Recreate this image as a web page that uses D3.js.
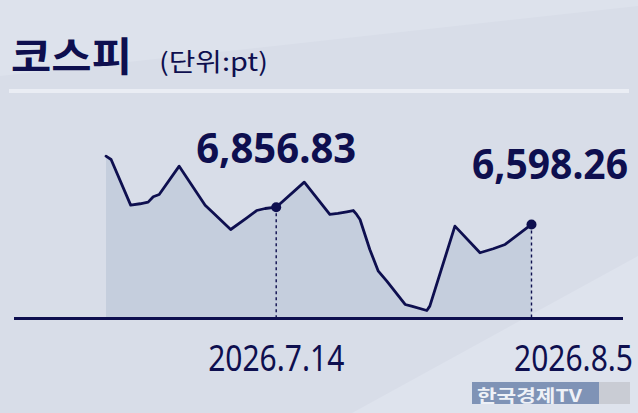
<!DOCTYPE html>
<html><head><meta charset="utf-8">
<script src="https://cdn.jsdelivr.net/npm/d3@7"></script>
<style>html,body{margin:0;padding:0;background:#d8dde8;}svg{display:block;}</style>
</head><body>
<svg id="c" width="638" height="413"></svg>
<script>
// position along the period (0 = first point, 100 = last point)
const positions = [0,1.2,5.8,8.0,9.9,11.1,12.5,17.2,23.3,24.8,29.3,33.1,35.4,37.4,40.0,46.6,52.6,54.5,56.6,58.1,58.9,59.7,62.0,64.0,66.0,70.3,71.8,75.4,76.1,82.0,87.9,91.0,93.8,100];
const values = [7619,7570,6887,6908,6932,7012,7047,7470,6887,6797,6523,6698,6807,6837,6856.83,7231,6748,6763,6788,6807,6748,6673,6224,5900,5750,5402,5377,5312,5377,6573,6175,6235,6299,6598.26];
const markedIdx = [14, 33];
const markedLabels = ["6,856.83", "6,598.26"];
const dateLabels = ["2026.7.14", "2026.8.5"];
const title = "코스피";
const unit = "(단위:pt)";
const logo = "한국경제TV";

const navy = "#0e0f4f";
const svg = d3.select("#c");

// background facets
svg.append("rect").attr("width",638).attr("height",413).attr("fill","#d8dde8");
svg.append("polygon").attr("points","0,0 638,0 638,6 0,76").attr("fill","#dde2ec");
svg.append("polygon").attr("points","352,413 638,256 638,413").attr("fill","#dee3ed");

// title
svg.append("text").attr("x",11).attr("y",71).text(title)
  .attr("font-family","'Noto Sans CJK KR'").attr("font-weight",700).attr("font-size",40)
  .attr("fill",navy).attr("textLength",121).attr("lengthAdjust","spacingAndGlyphs");
svg.append("text").attr("x",159).attr("y",71).text(unit)
  .attr("font-family","'Noto Sans CJK KR'").attr("font-weight",400).attr("font-size",25)
  .attr("fill",navy).attr("textLength",109).attr("lengthAdjust","spacingAndGlyphs");
svg.append("rect").attr("x",9).attr("y",89).attr("width",620).attr("height",4).attr("fill","#eaedf4");

const x = d3.scaleLinear().domain([0,100]).range([106,531.5]);
const y = d3.scaleLinear().domain([5200,7000]).range([318,197.6]);
const data = positions.map((p,i)=>({p, v: values[i]}));

svg.append("path").datum(data)
  .attr("d", d3.area().x(d=>x(d.p)).y0(y(5200)).y1(d=>y(d.v)))
  .attr("fill","#c5cedd");

// dashed drop lines
markedIdx.forEach(i=>{
  svg.append("line").attr("x1",x(positions[i])).attr("x2",x(positions[i]))
    .attr("y1",y(values[i])).attr("y2",y(5200))
    .attr("stroke",navy).attr("stroke-width",1.4).attr("stroke-dasharray","3,3");
});

svg.append("path").datum(data)
  .attr("d", d3.line().x(d=>x(d.p)).y(d=>y(d.v)))
  .attr("fill","none").attr("stroke",navy).attr("stroke-width",2.8)
  .attr("stroke-linejoin","round").attr("stroke-linecap","round");

// baseline
svg.append("line").attr("x1",14).attr("x2",623).attr("y1",y(5200)+0.5).attr("y2",y(5200)+0.5)
  .attr("stroke",navy).attr("stroke-width",3);

markedIdx.forEach(i=>{
  svg.append("circle").attr("cx",x(positions[i])).attr("cy",y(values[i])).attr("r",5).attr("fill",navy);
});

// value labels
svg.append("text").attr("x",x(positions[markedIdx[0]])).attr("y",163).attr("text-anchor","middle")
  .text(markedLabels[0]).attr("font-family","'Noto Sans'").attr("font-weight",700).attr("font-size",42)
  .attr("fill",navy).attr("textLength",160).attr("lengthAdjust","spacingAndGlyphs");
svg.append("text").attr("x",628).attr("y",179).attr("text-anchor","end")
  .text(markedLabels[1]).attr("font-family","'Noto Sans'").attr("font-weight",700).attr("font-size",41)
  .attr("fill",navy).attr("textLength",156).attr("lengthAdjust","spacingAndGlyphs");

// date labels (slightly tall, narrow lettering)
svg.append("text").attr("transform",`translate(${x(positions[markedIdx[0]])},371) scale(1,1.2)`)
  .attr("text-anchor","middle").text(dateLabels[0])
  .attr("font-family","'Noto Sans'").attr("font-weight",400).attr("font-size",30).attr("fill",navy);
svg.append("text").attr("transform","translate(633,371) scale(1,1.2)")
  .attr("text-anchor","end").text(dateLabels[1])
  .attr("font-family","'Noto Sans'").attr("font-weight",400).attr("font-size",30).attr("fill",navy);

// logo
svg.append("rect").attr("x",472).attr("y",382).attr("width",127).attr("height",22).attr("fill","#7f93b6");
svg.append("rect").attr("x",599).attr("y",382).attr("width",31).attr("height",22).attr("fill","#c9ccd4");
svg.append("text").attr("x",477).attr("y",401.5).text(logo)
  .attr("font-family","'Noto Sans CJK KR'").attr("font-weight",700).attr("font-size",17.5)
  .attr("fill","#eef1f7").attr("textLength",105).attr("lengthAdjust","spacingAndGlyphs");
</script>
</body></html>
